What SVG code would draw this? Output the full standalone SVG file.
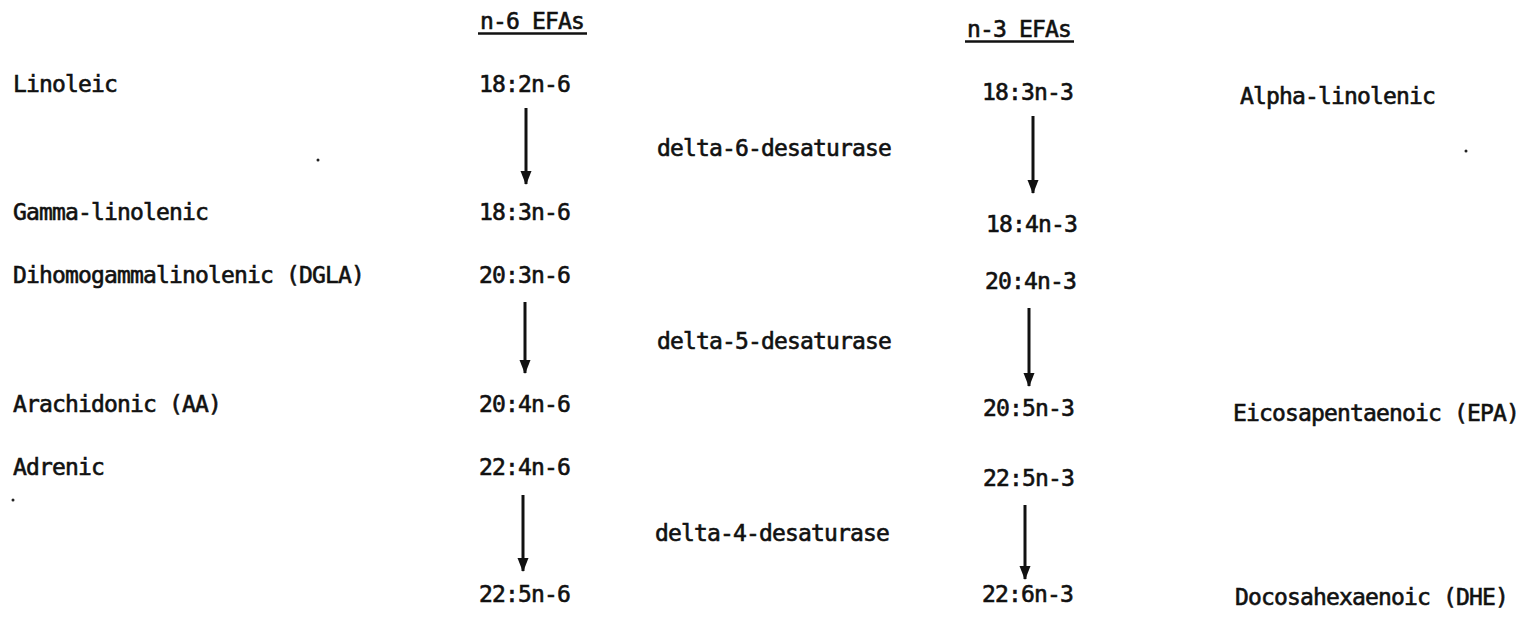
<svg xmlns="http://www.w3.org/2000/svg" width="1519" height="618" viewBox="0 0 1519 618">
  <style>
    text { font-family: "DejaVu Sans Mono", "Liberation Mono", monospace; font-size: 23px; letter-spacing: -0.85px; fill: #111; stroke: #111; stroke-width: 0.6; }
    .ul { stroke: #111; stroke-width: 2.5; }
    .arrow { stroke: #111; stroke-width: 3; fill: none; marker-end: url(#head); }
    .speck { fill: #222; }
  </style>
  <defs>
    <marker id="head" markerUnits="userSpaceOnUse" markerWidth="14" markerHeight="12" viewBox="0 0 14 12" refX="13" refY="6" orient="auto">
      <path d="M0,0.5 L14,6 L0,11.5 Z" fill="#111"/>
    </marker>
  </defs>
  <rect width="1519" height="618" fill="#fff"/>

  <!-- column headings -->
  <g id="head-n6"><text x="480" y="29">n-6 EFAs</text><line class="ul" x1="478" y1="33.5" x2="587" y2="33.5"/></g>
  <g id="head-n3"><text x="967" y="37">n-3 EFAs</text><line class="ul" x1="965" y1="41.5" x2="1074" y2="41.5"/></g>

  <!-- common names, n-6 series -->
  <g id="name-linoleic"><text x="13" y="92">Linoleic</text></g>
  <g id="name-gla"><text x="13" y="220">Gamma-linolenic</text></g>
  <g id="name-dgla"><text x="13" y="283">Dihomogammalinolenic (DGLA)</text></g>
  <g id="name-aa"><text x="13" y="412">Arachidonic (AA)</text></g>
  <g id="name-adrenic"><text x="13" y="475">Adrenic</text></g>

  <!-- n-6 fatty acids -->
  <g id="fa-18-2n6"><text x="479" y="92">18:2n-6</text></g>
  <g id="fa-18-3n6"><text x="479" y="220">18:3n-6</text></g>
  <g id="fa-20-3n6"><text x="479" y="283">20:3n-6</text></g>
  <g id="fa-20-4n6"><text x="479" y="412">20:4n-6</text></g>
  <g id="fa-22-4n6"><text x="479" y="475">22:4n-6</text></g>
  <g id="fa-22-5n6"><text x="479" y="602">22:5n-6</text></g>

  <!-- enzymes -->
  <g id="enz-d6"><text x="657" y="156">delta-6-desaturase</text></g>
  <g id="enz-d5"><text x="657" y="349">delta-5-desaturase</text></g>
  <g id="enz-d4"><text x="655" y="541">delta-4-desaturase</text></g>

  <!-- n-3 fatty acids -->
  <g id="fa-18-3n3"><text x="982" y="100">18:3n-3</text></g>
  <g id="fa-18-4n3"><text x="986" y="232">18:4n-3</text></g>
  <g id="fa-20-4n3"><text x="985" y="289">20:4n-3</text></g>
  <g id="fa-20-5n3"><text x="983" y="416">20:5n-3</text></g>
  <g id="fa-22-5n3"><text x="983" y="486">22:5n-3</text></g>
  <g id="fa-22-6n3"><text x="982" y="602">22:6n-3</text></g>

  <!-- common names, n-3 series -->
  <g id="name-ala"><text x="1240" y="104">Alpha-linolenic</text></g>
  <g id="name-epa"><text x="1233" y="421">Eicosapentaenoic (EPA)</text></g>
  <g id="name-dhe"><text x="1235" y="605">Docosahexaenoic (DHE)</text></g>

  <!-- conversion arrows -->
  <g id="connectors">
    <line class="arrow" x1="526" y1="108" x2="526" y2="184"/>
    <line class="arrow" x1="525" y1="302" x2="525" y2="373"/>
    <line class="arrow" x1="523" y1="495" x2="523" y2="571"/>
    <line class="arrow" x1="1033" y1="116" x2="1033" y2="193"/>
    <line class="arrow" x1="1029" y1="308" x2="1029" y2="386"/>
    <line class="arrow" x1="1025" y1="505" x2="1025" y2="579"/>
  </g>

  <!-- stray specks on the page -->
  <circle class="speck" cx="318" cy="160" r="1.5"/>
  <circle class="speck" cx="1466" cy="151" r="1.5"/>
  <circle class="speck" cx="13" cy="500" r="1.5"/>
</svg>
